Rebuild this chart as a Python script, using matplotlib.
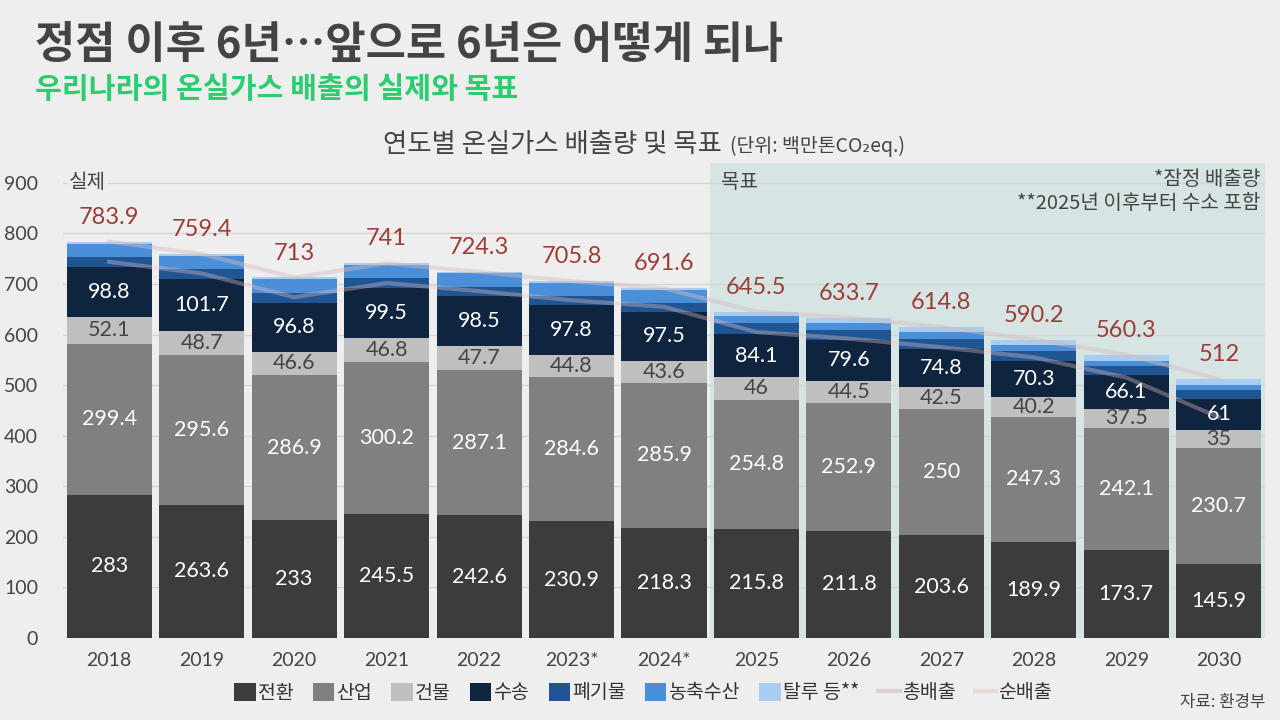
import matplotlib
matplotlib.use("Agg")
import matplotlib.pyplot as plt
from matplotlib.patches import Patch
from matplotlib.lines import Line2D
import numpy as np

plt.rcParams['font.family'] = ['Lato', 'Noto Sans CJK KR', 'DejaVu Sans']
KR = ['Noto Sans CJK KR', 'DejaVu Sans']

years = ['2018', '2019', '2020', '2021', '2022', '2023*', '2024*',
         '2025', '2026', '2027', '2028', '2029', '2030']
jeonhwan = [283, 263.6, 233, 245.5, 242.6, 230.9, 218.3, 215.8, 211.8, 203.6, 189.9, 173.7, 145.9]
saneop = [299.4, 295.6, 286.9, 300.2, 287.1, 284.6, 285.9, 254.8, 252.9, 250, 247.3, 242.1, 230.7]
geonmul = [52.1, 48.7, 46.6, 46.8, 47.7, 44.8, 43.6, 46, 44.5, 42.5, 40.2, 37.5, 35]
susong = [98.8, 101.7, 96.8, 99.5, 98.5, 97.8, 97.5, 84.1, 79.6, 74.8, 70.3, 66.1, 61]
pyegimul = [19.6, 19.3, 19.2, 19.5, 18.9, 18.7, 17.8, 21.8, 19.5, 20, 19.8, 18.9, 18.4]
nongchuk = [27, 27, 27, 27, 26.5, 26, 25.5, 14.5, 15.5, 13.9, 12.5, 10.5, 10]
talru = [4, 3.5, 3.5, 2.5, 3, 3, 3, 8.5, 9.9, 10, 10.2, 11.5, 11]
total = [783.9, 759.4, 713, 741, 724.3, 705.8, 691.6, 645.5, 633.7, 614.8, 590.2, 560.3, 512]
net = [744, 721, 674, 702, 686, 668, 655, 605, 592, 575, 555, 515, 436.6]

series = [
    ('전환', jeonhwan, '#3c3c3c', 'white'),
    ('산업', saneop, '#808080', 'white'),
    ('건물', geonmul, '#bfbfbf', '#444444'),
    ('수송', susong, '#0e243f', 'white'),
    ('폐기물', pyegimul, '#1f5593', None),
    ('농축수산', nongchuk, '#4a8fd8', None),
    ('탈루 등**', talru, '#a8cdf0', None),
]
TOTAL_C = '#d5bdbd'
NET_C = '#f0c8c8'

BG = '#eeeeee'
fig = plt.figure(figsize=(12.8, 7.2), dpi=100, facecolor=BG)
ax = fig.add_axes([63/1280, 1-638/720, (1265-63)/1280, (638-162.7)/720])
ax.set_facecolor('none')

x = np.arange(len(years))
ax.axvspan(6.5, 12.5, color='#d6e4e3', zorder=0, lw=0)

bottom = np.zeros(len(years))
for name, vals, col, tcol in series:
    vals = np.array(vals, dtype=float)
    bars = ax.bar(x, vals, 0.92, bottom=bottom, color=col, zorder=2, label=name)
    if tcol:
        ax.bar_label(bars, labels=[f'{v:g}' for v in vals], label_type='center',
                     color=tcol, fontsize=15.5)
    bottom += vals

ax.plot(x, total, color=TOTAL_C, lw=3, alpha=0.45, zorder=3, solid_joinstyle='round')
ax.plot(x, net, color=NET_C, lw=3, alpha=0.35, zorder=3, solid_joinstyle='round')

for xi, t in zip(x, total):
    ax.annotate(f'{t:g}', (xi, t), xytext=(0, 10), textcoords='offset points',
                ha='center', va='bottom', fontsize=17, color='#9c3d36', zorder=4)

ax.set_xlim(-0.5, 12.5)
ax.set_ylim(0, 940)
ax.set_yticks(range(0, 901, 100))
ax.set_xticks(x)
ax.set_xticklabels(years)
ax.tick_params(axis='both', length=0, labelsize=14, labelcolor='#444444')
ax.tick_params(axis='y', pad=18)
ax.tick_params(axis='x', pad=10)
ax.yaxis.grid(True, color='#d4d4d4', lw=1, zorder=1)
ax.set_axisbelow(True)
for s in ax.spines.values():
    s.set_visible(False)

ax.text(-0.44, 900, '실제', family=KR, fontsize=14.5, color='#444444', ha='left', va='center',
        zorder=5, bbox=dict(facecolor=BG, edgecolor='none', pad=1.5))
ax.text(6.62, 900, '목표', family=KR, fontsize=14.5, color='#444444', ha='left', va='center', zorder=5)
ax.text(12.45, 906, '*잠정 배출량', family=KR, fontsize=14.5, color='#444444', ha='right', va='center', zorder=5)
ax.text(12.45, 860, '**2025년 이후부터 수소 포함', family=KR, fontsize=14.5, color='#444444',
        ha='right', va='center', zorder=5)

fig.text(35/1280, 1-45/720, '정점 이후 6년…앞으로 6년은 어떻게 되나', family=KR, fontsize=31.5,
         fontweight='bold', color='#444444', ha='left', va='center')
fig.text(35/1280, 1-89/720, '우리나라의 온실가스 배출의 실제와 목표', family=KR, fontsize=21,
         fontweight='bold', color='#2ecc71', ha='left', va='center')
fig.text(722/1280, 1-152/720, '연도별 온실가스 배출량 및 목표', family=KR, fontsize=19,
         color='#444444', ha='right', va='baseline')
fig.text(730/1280, 1-152/720, '(단위: 백만톤CO₂eq.)', family=KR, fontsize=14,
         color='#444444', ha='left', va='baseline')
fig.text(1265/1280, 1-703/720, '자료: 환경부', family=KR, fontsize=12, color='#444444',
         ha='right', va='center')

handles = [Patch(facecolor=c, edgecolor='none', label=n) for n, _, c, _ in series]
handles += [Line2D([], [], color=TOTAL_C, lw=3, alpha=0.6, label='총배출'),
            Line2D([], [], color=NET_C, lw=3, alpha=0.6, label='순배출')]
leg = fig.legend(handles=handles, loc='center', bbox_to_anchor=(643/1280, 1-693/720), ncol=9,
                 frameon=False, handlelength=1.1, handleheight=1.1, handletextpad=0.1,
                 columnspacing=1.0, prop={'family': KR, 'size': 14})
for t in leg.get_texts():
    t.set_color('#333333')

fig.savefig('out.png', dpi=100, facecolor=BG)
